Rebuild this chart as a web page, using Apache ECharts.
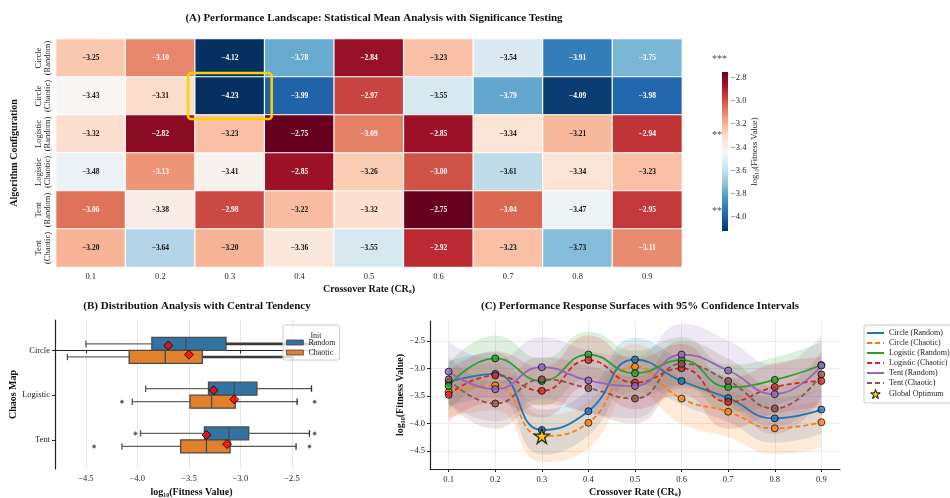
<!DOCTYPE html>
<html><head><meta charset="utf-8">
<script src="https://cdn.jsdelivr.net/npm/echarts@6/dist/echarts.min.js"></script>
<style>html,body{margin:0;padding:0;background:#fff}#c{width:950px;height:498px}</style>
</head><body><div id="c"></div>
<script>
// ---------------- data ----------------
const crossLabels = ['0.1','0.2','0.3','0.4','0.5','0.6','0.7','0.8','0.9'];
const crossValues = [0.1,0.2,0.3,0.4,0.5,0.6,0.7,0.8,0.9];
const configLabels = ['Circle\n(Random)','Circle\n(Chaotic)','Logistic\n(Random)','Logistic\n(Chaotic)','Tent\n(Random)','Tent\n(Chaotic)'];
const seriesNames = ['Circle (Random)','Circle (Chaotic)','Logistic (Random)','Logistic (Chaotic)','Tent (Random)','Tent (Chaotic)'];

const circleRandom    = [-3.25,-3.10,-4.12,-3.78,-2.84,-3.23,-3.54,-3.91,-3.75];
const circleChaotic   = [-3.43,-3.31,-4.23,-3.99,-2.97,-3.55,-3.79,-4.09,-3.98];
const logisticRandom  = [-3.32,-2.82,-3.23,-2.75,-3.09,-2.85,-3.34,-3.21,-2.94];
const logisticChaotic = [-3.48,-3.13,-3.41,-2.85,-3.26,-3.00,-3.61,-3.34,-3.23];
const tentRandom      = [-3.06,-3.38,-2.98,-3.22,-3.32,-2.75,-3.04,-3.47,-2.95];
const tentChaotic     = [-3.20,-3.64,-3.20,-3.36,-3.55,-2.92,-3.23,-3.73,-3.11];
const rows = [circleRandom, circleChaotic, logisticRandom, logisticChaotic, tentRandom, tentChaotic];

const sigLabels = ['***','','**','','**',''];
const colorbarTicks = [-4.0,-3.8,-3.6,-3.4,-3.2,-3.0,-2.8];
const colorMin = -4.12, colorMax = -2.75;
const highlightCell = [2, 1]; // (CR=0.3, Circle Chaotic)

// confidence band half widths per series
const ciHalf = [0.40, 0.42, 0.42, 0.45, 0.55, 0.42];
const optimum = [0.3, -4.23];

// box plot panel
const chaosMaps = ['Circle','Logistic','Tent'];
// [low whisker, Q1, median, Q3, high whisker]
const boxRandom  = [[-4.50,-3.86,-3.53,-3.14,-2.29],[-3.92,-3.31,-3.06,-2.84,-2.31],[-3.97,-3.35,-3.11,-2.92,-2.33]];
const boxChaotic = [[-4.68,-4.08,-3.73,-3.37,-2.49],[-4.05,-3.49,-3.28,-3.05,-2.45],[-4.15,-3.58,-3.33,-3.10,-2.46]];
const meanUpper = [-3.70,-3.26,-3.33];
const meanLower = [-3.50,-3.06,-3.13];
const outliersRandom  = [[],[],[-4.02,-2.28]];
const outliersChaotic = [[],[-4.15,-2.28],[-4.42,-2.33]];
const boxTicks = [-4.5,-4.0,-3.5,-3.0,-2.5];
const lineXTicks = [0.1,0.2,0.3,0.4,0.5,0.6,0.7,0.8,0.9];
const lineYTicks = [-4.5,-4.0,-3.5,-3.0,-2.5];

// ---------------- styles ----------------
const FONT = '"Liberation Serif","DejaVu Serif",serif';
const rdbu = ['#053061','#2166ac','#4393c3','#92c5de','#d1e5f0','#f7f7f7','#fddbc7','#f4a582','#d6604d','#b2182b','#67001f'];
const lineColors = ['#1f77b4','#ff7f0e','#2ca02c','#d62728','#9467bd','#8c564b'];
const boxColors = ['#3274a1','#e1812c'];
const starPath = 'path://M50,0 L61.2,34.5 L97.6,34.5 L68.2,55.9 L79.4,90.5 L50,69.1 L20.6,90.5 L31.8,55.9 L2.4,34.5 L38.8,34.5 Z';
const fmt = (v, d) => (v < 0 ? '\u2212' : '') + Math.abs(v).toFixed(d);

// panel C layout
const cGrid = { left: 430, top: 321, width: 410, height: 151 };
const cXMin = 0.06, cXMax = 0.94, cYMin = -4.83, cYMax = -2.14;
// hidden category grid aligned with the data x positions (for stacked bands)
const bandGrid = {
  left: cGrid.left + cGrid.width * (crossValues[0] - cXMin) / (cXMax - cXMin),
  top: cGrid.top,
  width: cGrid.width * (crossValues[crossValues.length - 1] - crossValues[0]) / (cXMax - cXMin),
  height: cGrid.height
};

// ---------------- build ----------------
const heatData = [];
rows.forEach((r, ri) => r.forEach((v, ci) => {
  const white = v >= -3.135 || v <= -3.745;
  heatData.push({ value: [ci, ri, v], label: { color: white ? '#fff' : '#111' } });
}));

const series = [];
series.push({
  type: 'heatmap', xAxisIndex: 0, yAxisIndex: 0, data: heatData,
  itemStyle: { borderColor: '#fff', borderWidth: 1.2 },
  label: { show: true, fontSize: 7.5, fontWeight: 'bold', fontFamily: FONT, formatter: p => fmt(p.value[2], 2) },
  emphasis: { disabled: true }, silent: true
});
series.push({
  type: 'custom', xAxisIndex: 0, yAxisIndex: 0, data: [highlightCell], z: 10, silent: true,
  renderItem: (params, api) => {
    const c = api.coord([api.value(0), api.value(1)]);
    const s = api.size([1, 1]);
    return { type: 'rect', shape: { x: c[0] - s[0] / 2 - 7, y: c[1] - s[1] / 2 - 4, width: s[0] + 14, height: s[1] + 8, r: 3 },
      style: { fill: 'none', stroke: '#FFD000', lineWidth: 2.5 } };
  }
});
const sigRows = sigLabels.map((s, i) => [crossLabels.length - 1, i]).filter((d, i) => sigLabels[i]);
const sigText = sigLabels.filter(s => s);
series.push({
  type: 'custom', xAxisIndex: 0, yAxisIndex: 0, data: sigRows, clip: false, silent: true, z: 10,
  renderItem: (params, api) => {
    const c = api.coord([api.value(0), api.value(1)]);
    const s = api.size([1, 1]);
    return { type: 'text', x: c[0] + s[0] / 2 + 30, y: c[1] + 1,
      style: { text: sigText[params.dataIndex], fill: '#444', fontSize: 10, fontFamily: FONT, textAlign: 'left', textVerticalAlign: 'middle' } };
  }
});
// colorbar
series.push({
  type: 'custom', xAxisIndex: 3, yAxisIndex: 3, data: [[0.5, -3.4]], silent: true,
  renderItem: (params) => {
    const cs = params.coordSys;
    const stops = rdbu.slice().reverse().map((c, i) => ({ offset: i / (rdbu.length - 1), color: c }));
    return { type: 'rect', shape: { x: cs.x, y: cs.y, width: cs.width, height: cs.height },
      style: { fill: new echarts.graphic.LinearGradient(0, 0, 0, 1, stops) } };
  }
});

// box plots
const boxOffset = 0.146, boxH = 0.29;
const thickRight = [true, false, false];
function boxRender(params, api) {
  const y = api.value(0);
  const lo = api.coord([api.value(1), y]), q1 = api.coord([api.value(2), y]), md = api.coord([api.value(3), y]),
        q3 = api.coord([api.value(4), y]), hi = api.coord([api.value(5), y]);
  const h = Math.abs(api.size([0, boxH])[1]);
  const cy = lo[1], cap = h * 0.5;
  const thick = thickRight[params.dataIndex];
  const wl = { stroke: '#666', lineWidth: 1.3 };
  const wr = thick ? { stroke: '#3a3a3a', lineWidth: 2.6 } : { stroke: '#555', lineWidth: 1.3 };
  return { type: 'group', children: [
    { type: 'line', shape: { x1: lo[0], y1: cy, x2: q1[0], y2: cy }, style: wl },
    { type: 'line', shape: { x1: q3[0], y1: cy, x2: hi[0], y2: cy }, style: wr },
    { type: 'line', shape: { x1: lo[0], y1: cy - cap / 2, x2: lo[0], y2: cy + cap / 2 }, style: { stroke: '#555', lineWidth: 1.3 } },
    { type: 'line', shape: { x1: hi[0], y1: cy - cap / 2, x2: hi[0], y2: cy + cap / 2 }, style: { stroke: '#333', lineWidth: 1.3 } },
    { type: 'rect', shape: { x: q1[0], y: cy - h / 2, width: q3[0] - q1[0], height: h },
      style: { fill: api.visual('color'), stroke: '#4a4a4a', lineWidth: 1.3 } },
    { type: 'line', shape: { x1: md[0], y1: cy - h / 2, x2: md[0], y2: cy + h / 2 }, style: { stroke: '#4a4a4a', lineWidth: 1.3 } }
  ] };
}
series.push({ type: 'custom', name: 'Random', xAxisIndex: 1, yAxisIndex: 1, itemStyle: { color: boxColors[0] },
  data: boxRandom.map((b, i) => [i - boxOffset, ...b]), encode: { x: [1, 5], y: 0 }, renderItem: boxRender, silent: true });
series.push({ type: 'custom', name: 'Chaotic', xAxisIndex: 1, yAxisIndex: 1, itemStyle: { color: boxColors[1] },
  data: boxChaotic.map((b, i) => [i + boxOffset, ...b]), encode: { x: [1, 5], y: 0 }, renderItem: boxRender, silent: true });
const outPts = [];
outliersRandom.forEach((o, i) => o.forEach(v => outPts.push([v, i - boxOffset])));
outliersChaotic.forEach((o, i) => o.forEach(v => outPts.push([v, i + boxOffset])));
series.push({ type: 'scatter', name: '_out', xAxisIndex: 1, yAxisIndex: 1, data: outPts, symbol: 'diamond', symbolSize: 4.5,
  itemStyle: { color: '#3d3d3d' }, silent: true });
series.push({ type: 'scatter', name: '_mean', xAxisIndex: 1, yAxisIndex: 1, z: 5,
  data: meanUpper.map((m, i) => [m, i - 0.11]).concat(meanLower.map((m, i) => [m, i + 0.095])),
  symbol: 'diamond', symbolSize: 9, itemStyle: { color: '#ff0000', borderColor: '#000', borderWidth: 1 }, silent: true });

// response surfaces
const SM = 0.5;
rows.forEach((vals, i) => {
  series.push({ type: 'line', name: '_lo' + i, xAxisIndex: 4, yAxisIndex: 4, stack: 'ci' + i, stackStrategy: 'all',
    data: vals.map(v => v - ciHalf[i]), smooth: SM, symbol: 'none', lineStyle: { opacity: 0 }, silent: true, z: 1 });
  series.push({ type: 'line', name: '_hi' + i, xAxisIndex: 4, yAxisIndex: 4, stack: 'ci' + i, stackStrategy: 'all',
    data: vals.map(() => 2 * ciHalf[i]), smooth: SM, symbol: 'none', lineStyle: { opacity: 0 },
    areaStyle: { color: lineColors[i], opacity: 0.16 }, silent: true, z: 1 });
});
rows.forEach((vals, i) => {
  series.push({ type: 'line', name: seriesNames[i], xAxisIndex: 2, yAxisIndex: 2,
    data: crossValues.map((x, j) => [x, vals[j]]), smooth: SM, symbol: 'none',
    lineStyle: { color: lineColors[i], width: 1.8, type: i % 2 ? [5, 3] : 'solid' }, itemStyle: { color: lineColors[i] }, silent: true, z: 3 });
});
rows.forEach((vals, i) => {
  series.push({ type: 'scatter', name: '_pts' + i, xAxisIndex: 2, yAxisIndex: 2,
    data: crossValues.map((x, j) => [x, vals[j]]), symbolSize: 7,
    itemStyle: { color: lineColors[i], borderColor: '#000', borderWidth: 0.9 }, silent: true, z: 4 });
});
series.push({ type: 'scatter', name: 'Global Optimum', xAxisIndex: 2, yAxisIndex: 2, data: [optimum], symbol: starPath, symbolSize: 15,
  itemStyle: { color: '#FFD700', borderColor: '#000', borderWidth: 1.3 }, silent: true, z: 6 });

const txt = { fontFamily: FONT, color: '#222' };
const axName = { fontFamily: FONT, fontWeight: 'bold', fontSize: 10, color: '#111' };
const option = {
  animation: false,
  backgroundColor: '#fff',
  title: [
    { text: '(A) Performance Landscape: Statistical Mean Analysis with Significance Testing', left: 369, top: 8, textAlign: 'center',
      textStyle: { fontFamily: FONT, fontWeight: 'bold', fontSize: 11, color: '#111' } },
    { text: '(B) Distribution Analysis with Central Tendency', left: 192, top: 296, textAlign: 'center',
      textStyle: { fontFamily: FONT, fontWeight: 'bold', fontSize: 11, color: '#111' } },
    { text: '(C) Performance Response Surfaces with 95% Confidence Intervals', left: 635, top: 296, textAlign: 'center',
      textStyle: { fontFamily: FONT, fontWeight: 'bold', fontSize: 11, color: '#111' } },
    { text: 'Init', left: 311, top: 327, textAlign: 'center', z: 20,
      textStyle: { fontFamily: FONT, fontWeight: 'normal', fontSize: 8, color: '#333' } }
  ],
  grid: [
    { left: 56, top: 39, width: 626, height: 228 },
    { left: 55, top: 320, width: 273, height: 152 },
    cGrid,
    { left: 722, top: 72, width: 6, height: 159 },
    bandGrid
  ],
  xAxis: [
    { type: 'category', gridIndex: 0, data: crossLabels, axisLine: { show: false },
      axisTick: { alignWithLabel: true, length: 3, lineStyle: { color: '#333' } },
      axisLabel: { ...txt, fontSize: 8.5, margin: 5 },
      name: 'Crossover Rate (CR\u2090)', nameLocation: 'middle', nameGap: 17, nameTextStyle: axName },
    { type: 'value', gridIndex: 1, min: -4.8, max: -2.15,
      axisLine: { show: true, lineStyle: { color: '#222', width: 1.2 } },
      axisTick: { show: true, length: 3, customValues: boxTicks, lineStyle: { color: '#222' } },
      axisLabel: { ...txt, fontSize: 8.5, margin: 5, customValues: boxTicks, formatter: v => fmt(v, 1) },
      splitLine: { show: true, lineStyle: { color: '#e6e6e6', width: 1 } },
      name: 'log\u2081\u2080(Fitness Value)', nameLocation: 'middle', nameGap: 18, nameTextStyle: axName },
    { type: 'value', gridIndex: 2, min: cXMin, max: cXMax,
      axisLine: { show: true, lineStyle: { color: '#222', width: 1.2 } },
      axisTick: { show: true, length: 3, customValues: lineXTicks, lineStyle: { color: '#222' } },
      axisLabel: { ...txt, fontSize: 8.5, margin: 6, customValues: lineXTicks, formatter: v => v.toFixed(1) },
      splitLine: { show: true, lineStyle: { color: '#ebebeb', width: 1 } },
      name: 'Crossover Rate (CR\u2090)', nameLocation: 'middle', nameGap: 18, nameTextStyle: axName },
    { type: 'value', gridIndex: 3, min: 0, max: 1, show: false },
    { type: 'category', gridIndex: 4, data: crossLabels, boundaryGap: false, show: false }
  ],
  yAxis: [
    { type: 'category', gridIndex: 0, data: configLabels, inverse: true, axisLine: { show: false },
      axisTick: { alignWithLabel: true, length: 3, interval: 0, lineStyle: { color: '#333' } },
      axisLabel: { ...txt, fontSize: 8.5, rotate: 90, lineHeight: 9, margin: 4, interval: 0 },
      name: 'Algorithm Configuration', nameLocation: 'middle', nameGap: 37, nameTextStyle: axName },
    { type: 'value', gridIndex: 1, inverse: true, min: -0.68, max: 2.65,
      axisLine: { show: true, lineStyle: { color: '#222', width: 1.2 } },
      axisTick: { show: true, length: 3, customValues: [0, 1, 2], lineStyle: { color: '#222' } },
      axisLabel: { ...txt, fontSize: 8.5, margin: 5, customValues: [0, 1, 2], formatter: v => chaosMaps[Math.round(v)] },
      splitLine: { show: false },
      name: 'Chaos Map', nameLocation: 'middle', nameGap: 31, nameTextStyle: axName },
    { type: 'value', gridIndex: 2, min: cYMin, max: cYMax,
      axisLine: { show: true, lineStyle: { color: '#222', width: 1.2 } },
      axisTick: { show: true, length: 3, customValues: lineYTicks, lineStyle: { color: '#222' } },
      axisLabel: { ...txt, fontSize: 8.5, margin: 5, customValues: lineYTicks, formatter: v => fmt(v, 1) },
      splitLine: { show: true, lineStyle: { color: '#ebebeb', width: 1 } },
      name: 'log\u2081\u2080(Fitness Value)', nameLocation: 'middle', nameGap: 18, nameTextStyle: axName },
    { type: 'value', gridIndex: 3, position: 'right', min: colorMin, max: colorMax,
      axisLine: { show: false },
      axisTick: { show: true, length: 3, customValues: colorbarTicks, lineStyle: { color: '#222' } },
      axisLabel: { ...txt, fontSize: 8.5, margin: 3, customValues: colorbarTicks, formatter: v => fmt(v, 1) },
      splitLine: { show: false },
      name: 'log\u2081\u2080(Fitness Value)', nameLocation: 'middle', nameRotate: 90, nameGap: 22,
      nameTextStyle: { fontFamily: FONT, fontSize: 8.5, color: '#222' } },
    { type: 'value', gridIndex: 4, min: cYMin, max: cYMax, show: false }
  ],
  visualMap: [{ type: 'continuous', show: false, seriesIndex: 0, dimension: 2, min: colorMin, max: colorMax, inRange: { color: rdbu } }],
  legend: [
    { data: seriesNames.concat([{ name: 'Global Optimum', icon: starPath,
        itemStyle: { opacity: 1, color: '#FFD700', borderColor: '#000', borderWidth: 1 } }]),
      left: 864, top: 325, orient: 'vertical',
      itemWidth: 17, itemHeight: 9, itemGap: 2, padding: [4, 6, 4, 2], borderColor: '#ccc', borderWidth: 1, borderRadius: 2,
      itemStyle: { opacity: 0 },
      backgroundColor: '#fff', textStyle: { fontFamily: FONT, fontSize: 8, color: '#222' }, selectedMode: false },
    { data: ['Random', 'Chaotic'], left: 283, top: 325, orient: 'vertical', icon: 'rect', itemWidth: 17, itemHeight: 5, itemGap: 1,
      padding: [13, 4, 3, 3], borderColor: '#ccc', borderWidth: 1, borderRadius: 2, backgroundColor: 'rgba(255,255,255,0.8)',
      itemStyle: { borderColor: '#444', borderWidth: 0.8 },
      textStyle: { fontFamily: FONT, fontSize: 8, lineHeight: 9, color: '#222' }, selectedMode: false, z: 15 }
  ],
  series
};
const chart = echarts.init(document.getElementById('c'), null, { renderer: 'canvas' });
chart.setOption(option);
</script></body></html>
